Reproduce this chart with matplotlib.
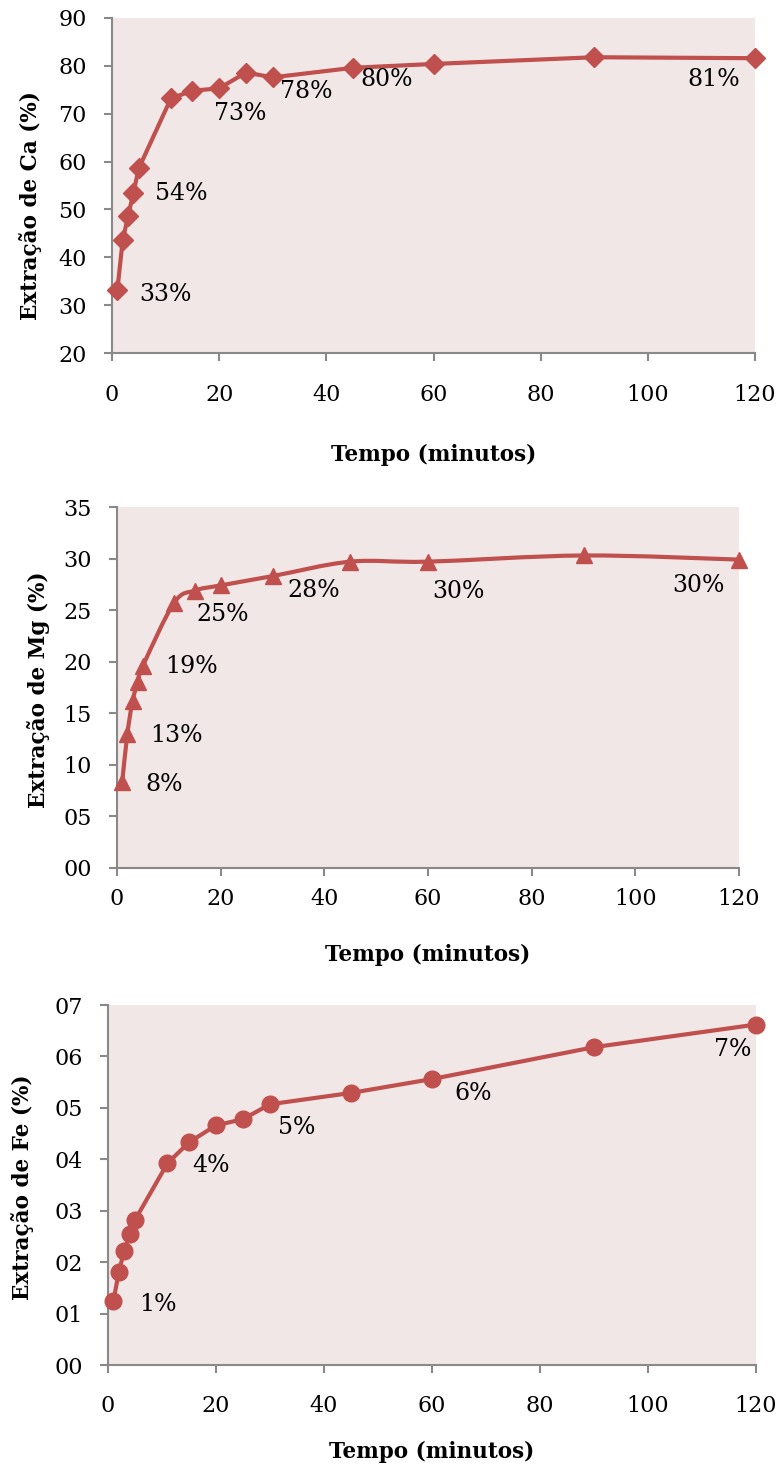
import numpy as np
import matplotlib
matplotlib.use("Agg")
import matplotlib.pyplot as plt
from matplotlib.path import Path
from matplotlib.patches import PathPatch

plt.rcParams['font.family'] = ['DejaVu Serif']

# ---- data ----
tempo_ca = [1, 2, 3, 4, 5, 11, 15, 20, 25, 30, 45, 60, 90, 120]
ca_ext = [33.2, 43.6, 48.6, 53.5, 58.6, 73.2, 74.8, 75.3, 78.6, 77.6, 79.6, 80.4, 81.8, 81.6]

tempo_mg = [1, 2, 3, 4, 5, 11, 15, 20, 30, 45, 60, 90, 120]
mg_ext = [8.3, 13.0, 16.2, 18.0, 19.6, 25.7, 26.9, 27.4, 28.3, 29.7, 29.7, 30.3, 29.9]

tempo_fe = [1, 2, 3, 4, 5, 11, 15, 20, 25, 30, 45, 60, 90, 120]
fe_ext = [1.24, 1.81, 2.22, 2.55, 2.82, 3.92, 4.33, 4.66, 4.78, 5.07, 5.29, 5.56, 6.18, 6.62]

ca_labels = {1: "33%", 4: "54%", 20: "73%", 30: "78%", 45: "80%", 120: "81%"}
mg_labels = {1: "8%", 2: "13%", 5: "19%", 15: "25%", 30: "28%", 60: "30%", 120: "30%"}
fe_labels = {1: "1%", 15: "4%", 30: "5%", 60: "6%", 120: "7%"}

xticks = [0, 20, 40, 60, 80, 100, 120]

# ---- style ----
RED = '#C0504D'
BG = '#F2E7E7'
GRAY = '#898989'

# label offsets in pixels (dx, dy) relative to points
ca_off = {1: (48, -5), 4: (48, -1), 20: (21, -25), 30: (33, -14), 45: (34, -12), 120: (-41, -21)}
mg_off = {1: (42, -2), 2: (49, -2), 5: (49, -1), 15: (28, -24), 30: (41, -14), 60: (30, -30), 120: (-41, -26)}
fe_off = {1: (44, -3), 15: (22, -23), 30: (27, -23), 60: (41, -14), 120: (-23, -25)}

W, H = 781, 1469
fig = plt.figure(figsize=(W / 100, H / 100), dpi=100)


def add_ax(l, r, t, b):
    return fig.add_axes([l / W, 1 - b / H, (r - l) / W, (b - t) / H])


def smooth_path(x, y):
    x = np.asarray(x, float)
    y = np.asarray(y, float)
    n = len(x)
    verts = [(x[0], y[0])]
    codes = [Path.MOVETO]
    for i in range(n - 1):
        i0 = max(i - 1, 0)
        i3 = min(i + 2, n - 1)
        c1 = (x[i] + (x[i + 1] - x[i0]) / 6, y[i] + (y[i + 1] - y[i0]) / 6)
        c2 = (x[i + 1] - (x[i3] - x[i]) / 6, y[i + 1] - (y[i3] - y[i]) / 6)
        verts += [c1, c2, (x[i + 1], y[i + 1])]
        codes += [Path.CURVE4] * 3
    return Path(verts, codes)


def draw(ax, x, y, smooth, marker, ms, ylim, yticks, fmt, ylabel, labels, offs,
         ylab_x, ylab_y, xlab_y, xpad, ypad):
    ax.set_facecolor(BG)
    if smooth:
        ax.add_patch(PathPatch(smooth_path(x, y), facecolor='none', edgecolor=RED,
                               lw=3.0, capstyle='round', joinstyle='round', zorder=2))
        ax.plot(x, y, linestyle='none', marker=marker, ms=ms, color=RED,
                markeredgecolor=RED, zorder=3, clip_on=False)
    else:
        ax.plot(x, y, '-', lw=3.0, marker=marker, ms=ms, color=RED,
                markeredgecolor=RED, solid_joinstyle='round', zorder=3, clip_on=False)
    ax.set_xlim(0, 120)
    ax.set_ylim(*ylim)
    ax.set_xticks(xticks)
    ax.set_yticks(yticks)
    ax.set_yticklabels([fmt(v) for v in yticks])
    for s in ['top', 'right']:
        ax.spines[s].set_visible(False)
    for s in ['left', 'bottom']:
        ax.spines[s].set_color(GRAY)
        ax.spines[s].set_linewidth(1.5)
    ax.tick_params(axis='both', direction='out', length=6, width=1.5, color=GRAY,
                   labelsize=16, labelcolor='black')
    ax.tick_params(axis='x', pad=xpad)
    ax.tick_params(axis='y', pad=ypad)
    ax.set_xlabel('Tempo (minutos)', fontsize=15.5, fontweight='bold')
    ax.xaxis.set_label_coords(0.5, xlab_y)
    ax.xaxis.label.set_va('center')
    ax.set_ylabel(ylabel, fontsize=15.5, fontweight='bold')
    ax.yaxis.set_label_coords(ylab_x, ylab_y)
    ax.yaxis.label.set_va('center')
    for t, txt in labels.items():
        yi = y[x.index(t)]
        ax.annotate(txt, (t, yi), xytext=offs[t], textcoords='offset pixels',
                    ha='center', va='center', fontsize=17, color='black', zorder=4)


ax1 = add_ax(112, 755, 18, 353)
draw(ax1, tempo_ca, ca_ext, False, 'D', 10.5, (20, 90), list(range(20, 91, 10)), lambda v: f"{v}",
     'Extração de Ca (%)', ca_labels, ca_off, -0.1275, 0.44, -0.3045, 16.5, 12)

ax2 = add_ax(117, 739, 507, 868)
draw(ax2, tempo_mg, mg_ext, True, '^', 11, (0, 35), list(range(0, 36, 5)), lambda v: f"{v:02d}",
     'Extração de Mg (%)', mg_labels, mg_off, -0.127, 0.493, -0.241, 8.5, 12)

ax3 = add_ax(108, 756, 1005, 1365)
draw(ax3, tempo_fe, fe_ext, False, 'o', 12, (0, 7), list(range(0, 8)), lambda v: f"{v:02d}",
     'Extração de Fe (%)', fe_labels, fe_off, -0.1327, 0.494, -0.242, 15.5, 12)

fig.savefig('out.png', dpi=100, facecolor='white')
